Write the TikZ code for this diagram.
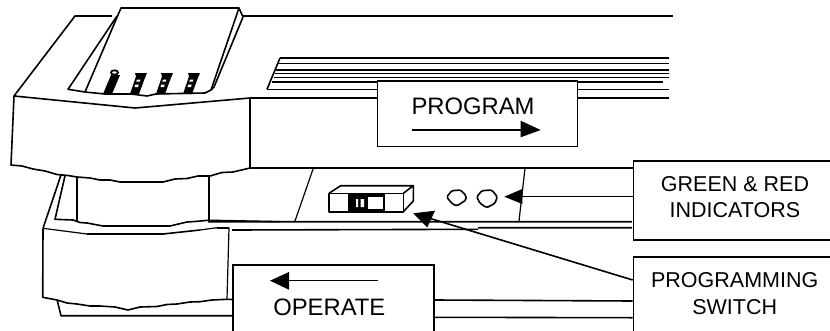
\documentclass[tikz,border=0pt]{standalone}
\usepackage{fontspec}
\setmainfont{Liberation Sans}
\begin{document}
\begin{tikzpicture}[x=1pt,y=-1pt,
  ln/.style={line width=1.6pt,line join=round,black},
  thinln/.style={line width=1.2pt,line join=round,black},
  lab/.style={font=\fontsize{23.8}{23.8}\selectfont,text=black,anchor=base,inner sep=0pt},
  lab2/.style={font=\fontsize{21.5}{21.5}\selectfont,text=black,anchor=base,inner sep=0pt},
  box/.style={draw=black,line width=1.7pt,fill=white},
  tip/.style={fill=black,draw=none}]
\useasboundingbox (0,0) rectangle (830,330);
\clip (0,0) rectangle (830,330);
\fill[white] (0,0) rectangle (830,330);
% rear rules
\draw[ln] (243,16) -- (673,16);
\draw[ln] (280,58) -- (669,58) (278,63.5) -- (669,63.5) (276,69.7) -- (669,69.7) (275,73.3) -- (669,73.3) (273.5,77.3) -- (669,77.3) (272,81.7) -- (663,81.7) (267,89.3) -- (669,89.3);
\draw[ln] (280,58) -- (267,89.3);
\draw[ln] (250,98) -- (669,98);
% cradle
\draw[ln] (112,16) -- (75,16) -- (14,96) -- (135,108) -- (250,98) -- (250,168) -- (633,168);
\draw[ln] (14,96) -- (11,165) -- (22,166) -- (33,169) -- (45,171) -- (57,174.5) -- (68,175.5) -- (77,177) -- (90,178) -- (100,180) -- (110,180) -- (120,182) -- (163,182) -- (175,179) -- (187,178.5) -- (198,176) -- (210,176) -- (222,172.5) -- (233,172) -- (250,168);
% card
\draw[ln] (117,16) -- (68,89.3) -- (85,92) -- (105,94) -- (131,94) -- (147,96) -- (156,94) -- (205,93) -- (211,90);
\draw[ln] (85,92) -- (121,8) -- (239,8) -- (211,90);
\draw[ln] (239,8) -- (243,17) -- (214,87) -- (211,90);
% tabs
\foreach \x in {130,156,183}{
  \fill[black] (\x,94) -- (\x+9,94) -- (\x+14.5,79) -- (\x+17,73) -- (\x+5,73) -- (\x+6,76.5) -- cycle;
  \fill[white] (\x+7,79.5) -- (\x+10.5,79.5) -- (\x+9.8,81.5) -- (\x+6.3,81.5) -- cycle;
  \fill[white] (\x+5.3,84.5) -- (\x+8.8,84.5) -- (\x+8,87) -- (\x+4.5,87) -- cycle;
}
\fill[black] (103,94) -- (112,94) -- (120,75) -- (111,75) -- cycle;
\draw[black,line width=1.8pt] (114.5,72.5) ellipse (3.5 and 2.2);
% lower blocks
\draw[ln] (61,175) -- (43,228.3);
\draw[thinln] (43,228.3) -- (87,234);
\draw[ln] (87,234) -- (163,234) -- (200,230);
\draw[thinln] (200,230) -- (217,227.7);
\draw[ln] (217,227.7) -- (229,227.7);
\draw[thinln] (229,227.7) -- (227,299.3);
\draw[ln] (227,299.3) -- (232,299.5);
\draw[ln] (43,228.3) -- (42.7,297.3) -- (57,300) -- (67,303) -- (77,304) -- (90,306) -- (100,306) -- (115,307) -- (128,310) -- (140,307) -- (157,306.5) -- (167,304.5) -- (177,304) -- (190,302) -- (200,301.7) -- (212,300) -- (227,299.3);
\draw[ln] (57.3,300.7) -- (61,315.7) -- (232,315.7);
\draw[ln] (65,175.7) -- (55,219.3) -- (73,220) -- (80,222.5) -- (87,223) -- (103,226) -- (170,226) -- (187,222) -- (195,221.5) -- (208,220.3) -- (280,221.7);
\draw[ln] (76.7,176.7) -- (76.7,221) (209,175.7) -- (209,221);
\draw[ln] (208,221.7) -- (632,221.7) (232,230) -- (478,229.3) (478,227.7) -- (632,227.7);
\draw[thinln] (313.3,168.3) -- (295,221) (525,168.3) -- (519,221);
% switch
\draw[ln,fill=white] (329,193.3) rectangle (403.3,211.7);
\draw[ln] (329,193.3) -- (340.7,185.7) -- (413.3,185.7) -- (403.3,193.3) (413.3,185.7) -- (413.3,201) -- (403.3,211.7);
\fill[black] (348.3,193.3) rectangle (384.5,211.7);
\fill[white] (368,197.3) rectangle (382.5,209);
\fill[white] (356,199) rectangle (358,207) (360.7,199) rectangle (364,207);
% indicators
\draw[ln,rounded corners=1.5pt] (446.7,197) -- (451.7,190.7) -- (460.7,190) -- (466,195.7) -- (466,200) -- (456.7,206) -- (451.7,203.3) -- cycle;
\draw[ln,rounded corners=1.5pt] (476.7,197) -- (481.7,190.7) -- (491.7,190) -- (497.3,196.7) -- (495,203.3) -- (486.7,207.7) -- (480,203.3) -- cycle;
% labelled boxes
\node[box,minimum width=200pt,minimum height=65.7pt,inner sep=0pt,anchor=north west] (prog) at (376.7,80) {};
\node[box,minimum width=240pt,minimum height=79.3pt,inner sep=0pt,anchor=north west] (ind) at (632.7,160) {};
\node[box,minimum width=240pt,minimum height=100pt,inner sep=0pt,anchor=north west] (sw) at (632.7,256) {};
\node[box,minimum width=201pt,minimum height=100pt,inner sep=0pt,anchor=north west] (op) at (232.3,264) {};
\draw[ln] (op.east |- 0,300) -- (sw.west |- 0,301);
\draw[ln] (op.east |- 0,317.3) -- (sw.west |- 0,317.7);
\node[lab] (t1) at (473,114.5) {PROGRAM};
\node[lab] (t2) at (329.3,315.7) {OPERATE};
\node[lab2] (t3) at (735,191.7) {GREEN \& RED};
\node[lab2] (t4) at (735,217.7) {INDICATORS};
\node[lab2] (t5) at (734.7,287) {PROGRAMMING};
\node[lab2] (t6) at (734.7,314) {SWITCH};
% arrows
\coordinate (a1) at (412,130); \coordinate (a1e) at (520.7,130);
\draw[ln] (a1) -- (a1e);
\fill[tip] (520.7,120.7) -- (540.7,130) -- (520.7,137.3) -- cycle;
\coordinate (a2) at (377.7,280.5); \coordinate (a2e) at (289,280.5);
\draw[ln] (a2) -- (a2e);
\fill[tip] (289,272) -- (270,280.7) -- (289,289.7) -- cycle;
\coordinate (a3e) at (522.3,196.3);
\draw[ln] (ind.west |- a3e) -- (a3e);
\fill[tip] (522.3,189) -- (504.3,196.7) -- (522.3,204) -- cycle;
\coordinate (a4s) at (632.7,280); \coordinate (a4e) at (431,218.7);
\draw[ln] (a4s) -- (a4e);
\fill[tip] (435,210.7) -- (413.3,213.3) -- (427.3,227.3) -- cycle;
\end{tikzpicture}
\end{document}
